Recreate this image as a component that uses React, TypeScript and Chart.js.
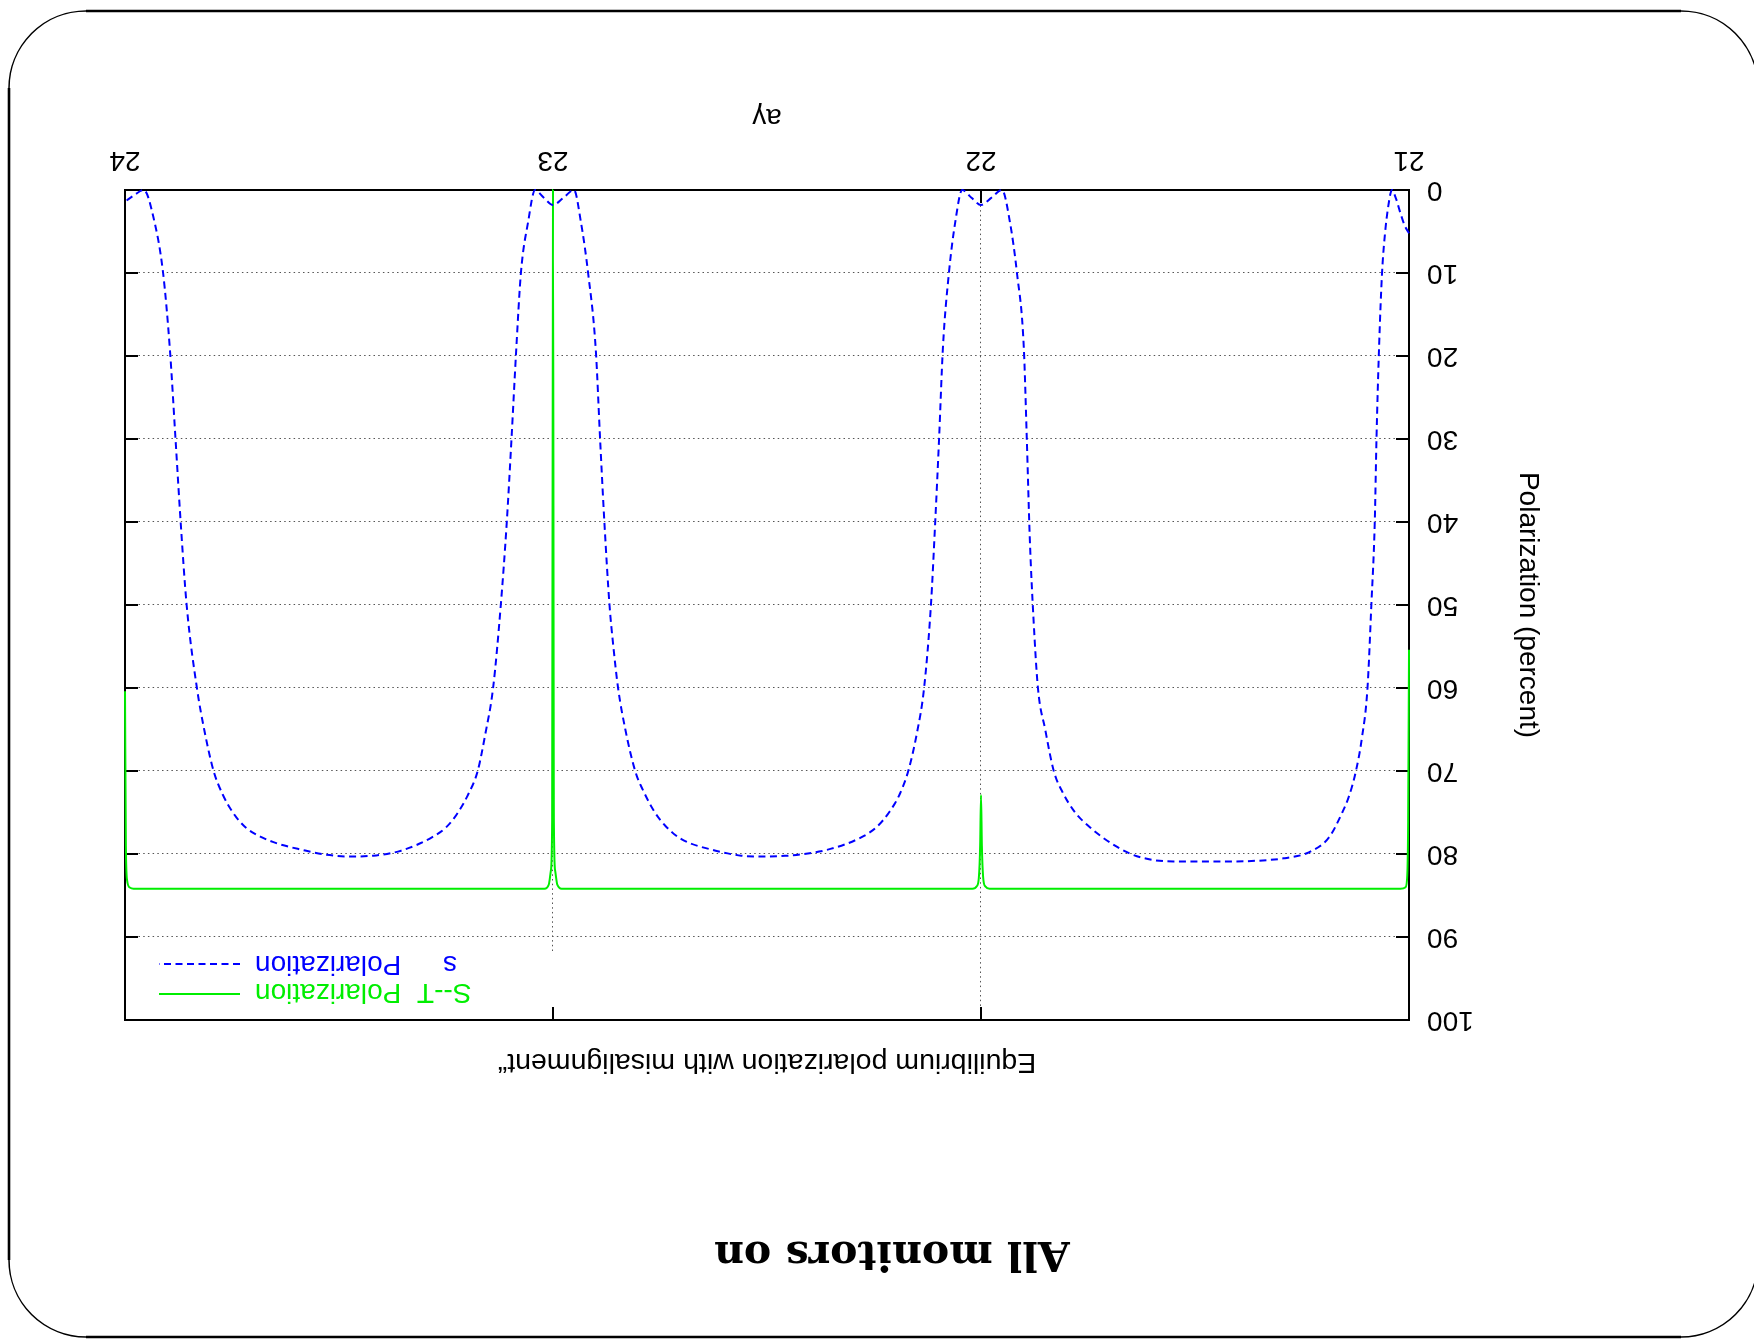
import { useEffect, useRef } from "react";
import { Chart, registerables } from "chart.js";

Chart.register(...registerables);

const W = 1754;
const H = 1340;

const xTicks = [21, 22, 23, 24];
const yTicks = [0, 10, 20, 30, 40, 50, 60, 70, 80, 90, 100];

const titleText = "All monitors on";
const subtitleText = "Equilibrium polarization with misalignment\u201C";
const xTitle = "a\u03B3";
const yTitle = "Polarization (percent)";
const legendPrefixes = ["S--T", "s"];
const legendNames = ["Polarization", "Polarization"];

const blueX = [
  21.0, 21.01, 21.02, 21.03, 21.04, 21.048, 21.056, 21.063, 21.07, 21.076, 21.08, 21.088, 21.097, 21.11, 21.124,
  21.14, 21.156, 21.187, 21.234, 21.29, 21.35, 21.45, 21.55, 21.6, 21.65, 21.705, 21.745, 21.78, 21.81, 21.83,
  21.85, 21.867, 21.877, 21.886, 21.893, 21.9, 21.916, 21.932, 21.951, 21.975, 22.0, 22.023, 22.044, 22.06, 22.075,
  22.089, 22.098, 22.107, 22.117, 22.133, 22.15, 22.17, 22.19, 22.215, 22.245, 22.28, 22.36, 22.45, 22.52, 22.56,
  22.62, 22.7, 22.734, 22.762, 22.788, 22.808, 22.831, 22.848, 22.859, 22.868, 22.88, 22.89, 22.9, 22.918, 22.935,
  22.951, 22.975, 23.0, 23.022, 23.042, 23.058, 23.075, 23.086, 23.097, 23.108, 23.122, 23.14, 23.158, 23.176, 23.198,
  23.222, 23.25, 23.283, 23.355, 23.42, 23.48, 23.54, 23.586, 23.64, 23.68, 23.718, 23.748, 23.772, 23.793, 23.815,
  23.832, 23.856, 23.87, 23.882, 23.895, 23.911, 23.934, 23.956, 23.978, 24.0,
];
const blueY = [
  5.2, 4.3, 2.8, 1.1, 0.0, 1.8, 5.2, 10.0, 19.0, 30.0, 40.0, 50.0, 60.0, 66.0, 70.0,
  73.0, 75.0, 78.0, 79.8, 80.5, 80.8, 80.9, 80.9, 80.7, 80.0, 78.4, 76.8, 75.0, 72.5, 70.0,
  65.0, 60.0, 52.0, 42.0, 30.0, 19.0, 10.0, 4.0, 0.0, 0.9, 1.8, 0.9, 0.0, 3.8, 10.0,
  19.0, 30.0, 40.0, 50.0, 60.0, 65.5, 70.0, 72.8, 75.0, 76.8, 78.0, 79.5, 80.2, 80.3, 80.2,
  79.6, 78.2, 76.8, 75.0, 72.5, 70.0, 65.0, 60.0, 55.0, 50.0, 40.0, 30.0, 19.3, 10.0, 3.8,
  0.0, 0.9, 1.8, 0.9, 0.0, 3.8, 10.0, 19.3, 30.0, 40.0, 50.0, 60.0, 65.5, 70.0, 72.8,
  75.0, 76.8, 78.0, 79.6, 80.2, 80.3, 80.0, 79.5, 78.8, 78.0, 76.8, 75.0, 72.8, 70.0, 65.0,
  60.0, 50.0, 40.0, 30.0, 19.3, 10.0, 3.2, 0.0, 0.6, 1.4,
];

const greenX = [
  21.0, 21.002, 21.004, 21.008, 21.02, 21.5, 21.98, 21.99, 21.995, 21.998, 22.0, 22.002, 22.005, 22.01, 22.02,
  22.5, 22.98, 22.99, 22.995, 22.998, 23.0, 23.002, 23.005, 23.01, 23.02, 23.5, 23.98, 23.99, 23.995, 23.998, 24.0,
];
const greenY = [
  55.4, 76.0, 82.5, 84.0, 84.2, 84.2, 84.2, 83.9, 82.8, 79.0, 72.9, 79.0, 82.8, 83.9, 84.2,
  84.2, 84.2, 83.7, 82.0, 76.0, 0.0, 76.0, 82.0, 83.7, 84.2, 84.2, 84.2, 84.0, 83.2, 79.0, 60.4,
];

const BLUE = "#0000ff";
const GREEN = "#00ee00";
const SANS = "'Liberation Sans', Arial, Helvetica, sans-serif";

const decorPlugin = {
  id: "decor",
  beforeDatasetsDraw(chart: any) {
    const { ctx, chartArea: a, scales } = chart;
    const x = scales.x;
    const y = scales.y;
    const keyBottom = a.top + 69;
    ctx.save();
    // dotted grid
    ctx.strokeStyle = "#555";
    ctx.lineWidth = 1;
    ctx.setLineDash([1.5, 3.2]);
    for (const t of yTicks) {
      if (t <= 0 || t >= 100) continue;
      const py = Math.round(y.getPixelForValue(t)) + 0.5;
      ctx.beginPath();
      ctx.moveTo(a.left, py);
      ctx.lineTo(a.right, py);
      ctx.stroke();
    }
    for (const t of xTicks) {
      if (t <= 21 || t >= 24) continue;
      const px = Math.round(x.getPixelForValue(t)) + 0.5;
      const top = t === 23 ? keyBottom : a.top;
      ctx.beginPath();
      ctx.moveTo(px, top);
      ctx.lineTo(px, a.bottom);
      ctx.stroke();
    }
    // border and inward ticks (drawn under the data)
    ctx.setLineDash([]);
    ctx.strokeStyle = "#000";
    ctx.lineWidth = 2;
    ctx.strokeRect(a.left, a.top, a.right - a.left, a.bottom - a.top);
    const tl = 13;
    ctx.beginPath();
    for (const t of yTicks) {
      const py = y.getPixelForValue(t);
      ctx.moveTo(a.left, py);
      ctx.lineTo(a.left + tl, py);
      ctx.moveTo(a.right, py);
      ctx.lineTo(a.right - tl, py);
    }
    for (const t of xTicks) {
      const px = x.getPixelForValue(t);
      ctx.moveTo(px, a.bottom);
      ctx.lineTo(px, a.bottom - tl);
      ctx.moveTo(px, a.top);
      ctx.lineTo(px, a.top + tl);
    }
    ctx.stroke();
    ctx.restore();
  },
  afterDatasetsDraw(chart: any) {
    const { ctx, chartArea: a } = chart;
    ctx.save();
    ctx.setLineDash([]);

    // key
    const rows = [
      { color: GREEN, dash: [] as number[], line: a.top + 26, base: a.top + 35.5 },
      { color: BLUE, dash: [7, 4.5], line: a.top + 56, base: a.top + 64 },
    ];
    const prefixEnds = [a.right - 292, a.right - 318];
    ctx.font = `28px ${SANS}`;
    ctx.textBaseline = "alphabetic";
    rows.forEach((r, i) => {
      ctx.strokeStyle = r.color;
      ctx.lineWidth = 2;
      ctx.setLineDash(r.dash);
      ctx.beginPath();
      ctx.moveTo(a.right - 115, r.line);
      ctx.lineTo(a.right - 34, r.line);
      ctx.stroke();
      ctx.setLineDash([]);
      ctx.fillStyle = r.color;
      ctx.textAlign = "right";
      ctx.fillText(legendNames[i], a.right - 130, r.base);
      ctx.fillText(legendPrefixes[i], prefixEnds[i], r.base);
    });

    // subtitle above plot
    ctx.fillStyle = "#000";
    ctx.textAlign = "center";
    ctx.font = `28.5px ${SANS}`;
    ctx.fillText(subtitleText, (a.left + a.right) / 2, 286);

    // slide title
    ctx.font = `bold 41px 'DejaVu Serif', 'Liberation Serif', serif`;
    ctx.fillText(titleText, 862, 98);

    // slide frame (rounded rectangle)
    const L = -4, R = 1745, T = 3, B = 1329, rad = 77;
    ctx.strokeStyle = "#000";
    ctx.lineWidth = 2.6;
    ctx.beginPath();
    ctx.moveTo(L + rad, T);
    ctx.lineTo(R - rad, T);
    ctx.moveTo(R, T + rad);
    ctx.lineTo(R, B - rad);
    ctx.moveTo(R - rad, B);
    ctx.lineTo(L + rad, B);
    ctx.moveTo(L, B - rad);
    ctx.lineTo(L, T + rad);
    ctx.stroke();
    ctx.lineWidth = 1.5;
    ctx.beginPath();
    ctx.arc(R - rad, T + rad, rad, -Math.PI / 2, 0);
    ctx.stroke();
    ctx.beginPath();
    ctx.arc(R - rad, B - rad, rad, 0, Math.PI / 2);
    ctx.stroke();
    ctx.beginPath();
    ctx.arc(L + rad, B - rad, rad, Math.PI / 2, Math.PI);
    ctx.stroke();
    ctx.beginPath();
    ctx.arc(L + rad, T + rad, rad, Math.PI, 1.5 * Math.PI);
    ctx.stroke();
    ctx.restore();
  },
};

export default function App() {
  const ref = useRef<HTMLCanvasElement | null>(null);

  useEffect(() => {
    if (!ref.current) return;
    const chart = new Chart(ref.current, {
      type: "line",
      data: {
        datasets: [
          {
            label: legendPrefixes[0] + " " + legendNames[0],
            data: greenX.map((v, i) => ({ x: v, y: greenY[i] })),
            borderColor: GREEN,
            borderWidth: 2,
            pointRadius: 0,
            fill: false,
            clip: 4,
            cubicInterpolationMode: "monotone",
            order: 1,
          },
          {
            label: legendPrefixes[1] + " " + legendNames[1],
            data: blueX.map((v, i) => ({ x: v, y: blueY[i] })),
            borderColor: BLUE,
            borderWidth: 2,
            borderDash: [7, 4.5],
            pointRadius: 0,
            fill: false,
            clip: 4,
            cubicInterpolationMode: "monotone",
            order: 0,
          },
        ],
      },
      options: {
        responsive: false,
        animation: false,
        devicePixelRatio: 1,
        layout: { padding: { left: 0, right: 125, top: 320, bottom: 0 } },
        plugins: {
          legend: { display: false },
          title: { display: false },
          tooltip: { enabled: false },
        },
        scales: {
          x: {
            type: "linear",
            position: "bottom",
            min: 21,
            max: 24,
            afterFit: (s: any) => {
              s.height = 190;
            },
            ticks: {
              stepSize: 1,
              padding: 13.5,
              color: "#000",
              font: { family: SANS, size: 28 },
              maxRotation: 0,
              autoSkip: false,
            },
            grid: { display: false, drawTicks: false },
            border: { display: false },
            title: {
              display: true,
              text: xTitle,
              color: "#000",
              font: { family: SANS, size: 28 },
              padding: { top: 0, bottom: 100 },
            },
          },
          y: {
            type: "linear",
            position: "left",
            min: 0,
            max: 100,
            afterFit: (s: any) => {
              s.width = 345;
            },
            ticks: {
              stepSize: 10,
              padding: 18,
              color: "#000",
              font: { family: SANS, size: 28 },
              autoSkip: false,
            },
            grid: { display: false, drawTicks: false },
            border: { display: false },
            title: {
              display: true,
              text: yTitle,
              color: "#000",
              font: { family: SANS, size: 28 },
              padding: { top: 209, bottom: 0 },
            },
          },
        },
      },
      plugins: [decorPlugin],
    } as any);
    return () => chart.destroy();
  }, []);

  return (
    <div
      style={{
        position: "fixed",
        left: 0,
        top: 0,
        width: W,
        height: H,
        background: "#fff",
        transform: "rotate(180deg)",
        transformOrigin: "50% 50%",
      }}
    >
      <canvas ref={ref} width={W} height={H} style={{ display: "block", width: W, height: H }} />
    </div>
  );
}
